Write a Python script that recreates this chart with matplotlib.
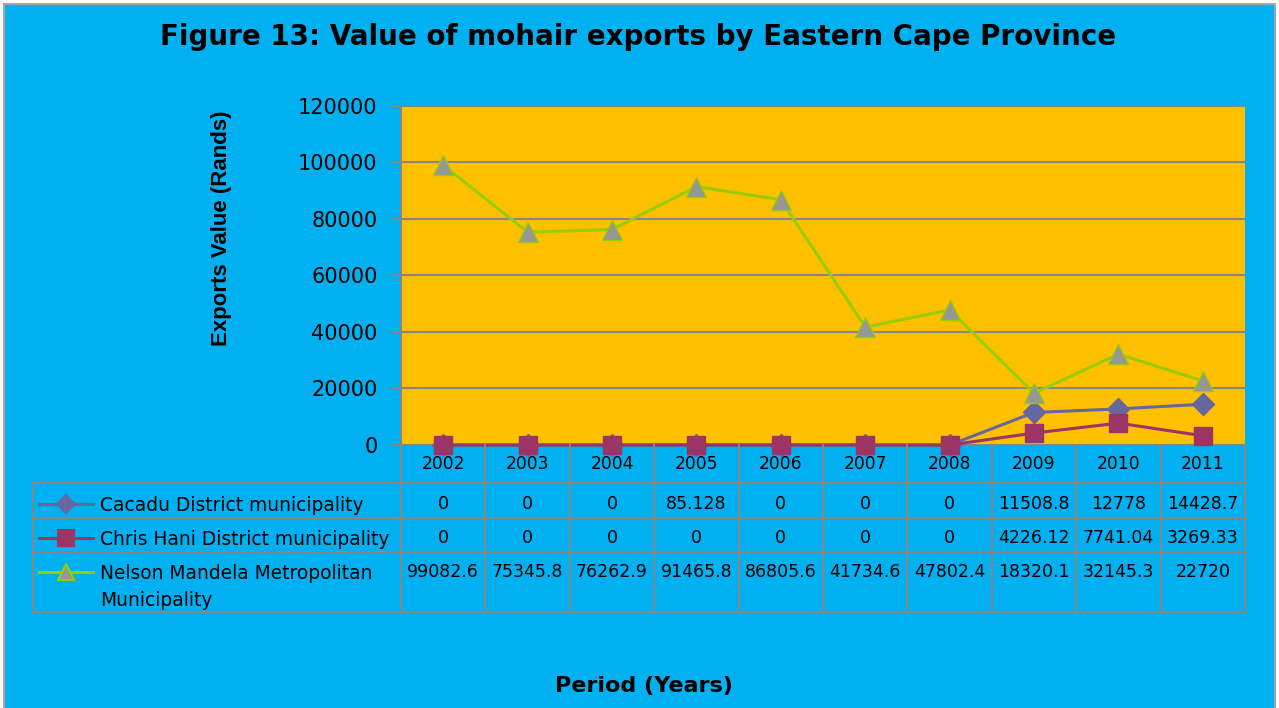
import numpy as np
import matplotlib
matplotlib.use("Agg")
import matplotlib.pyplot as plt
from matplotlib.lines import Line2D
from matplotlib.patches import Rectangle

years = ["2002", "2003", "2004", "2005", "2006", "2007", "2008", "2009", "2010", "2011"]
cacadu = [0, 0, 0, 85.128, 0, 0, 0, 11508.8, 12778, 14428.7]
chris_hani = [0, 0, 0, 0, 0, 0, 0, 4226.12, 7741.04, 3269.33]
nelson = [99082.6, 75345.8, 76262.9, 91465.8, 86805.6, 41734.6, 47802.4, 18320.1, 32145.3, 22720]

cacadu_txt = ["0", "0", "0", "85.128", "0", "0", "0", "11508.8", "12778", "14428.7"]
chris_txt = ["0", "0", "0", "0", "0", "0", "0", "4226.12", "7741.04", "3269.33"]
nelson_txt = ["99082.6", "75345.8", "76262.9", "91465.8", "86805.6", "41734.6",
              "47802.4", "18320.1", "32145.3", "22720"]

BG = "#00B0F0"
PLOT_BG = "#FFC000"
GRID = "#868686"
W, H = 1279, 708

series = [
    (["Cacadu District municipality"], cacadu, cacadu_txt,
     dict(color="#6666A0", marker="D", markersize=11, markerfacecolor="#6666A0", markeredgecolor="#6666A0")),
    (["Chris Hani District municipality"], chris_hani, chris_txt,
     dict(color="#9C3566", marker="s", markersize=13, markerfacecolor="#9C3566", markeredgecolor="#9C3566")),
    (["Nelson Mandela Metropolitan", "Municipality"], nelson, nelson_txt,
     dict(color="#99CC00", marker="^", markersize=14, markerfacecolor="#969696", markeredgecolor="#99CC00")),
]

fig = plt.figure(figsize=(W / 100, H / 100), dpi=100)
fig.patch.set_facecolor("white")

# background frame of the chart area (pixel coordinates)
bgax = fig.add_axes([0, 0, 1, 1], zorder=-10)
bgax.set_xlim(0, W)
bgax.set_ylim(H, 0)
bgax.axis("off")
bgax.add_patch(Rectangle((4, 4), 1271, 720, facecolor=BG, edgecolor="#A6A6A6", lw=1.5))

# plot area in pixel terms
left, right, top, bottom = 401, 1245, 106, 445
ax = fig.add_axes([left / W, 1 - bottom / H, (right - left) / W, (bottom - top) / H])
ax.set_facecolor(PLOT_BG)
x = np.arange(len(years))
for name, vals, _, style in series:
    ax.plot(x, vals, lw=2.2, zorder=3, clip_on=False, **style)
ax.set_xlim(-0.5, len(years) - 0.5)
ax.set_ylim(0, 120000)
ax.set_yticks(np.arange(0, 120001, 20000))
ax.set_yticklabels([str(v) for v in range(0, 120001, 20000)], fontsize=15,
                   family="DejaVu Sans")
ax.set_xticks([])
ax.grid(axis="y", color=GRID, lw=1.5)
ax.set_axisbelow(True)
ax.tick_params(axis="y", length=7, width=1.5, color=GRID, pad=10)
for s in ["top", "right", "bottom"]:
    ax.spines[s].set_visible(False)
ax.spines["left"].set_color(GRID)
ax.spines["left"].set_linewidth(1.5)

fig.text(221 / W, 1 - 228 / H, "Exports Value (Rands)", rotation=90, ha="center", va="center",
         fontsize=16, fontweight="bold", family=["Liberation Sans", "DejaVu Sans"])

# data table drawn in pixel coordinates
tb = fig.add_axes([0, 0, 1, 1])
tb.set_xlim(0, W)
tb.set_ylim(H, 0)
tb.axis("off")
tb.patch.set_alpha(0)

col_w = (right - left) / len(years)
col_edges = [left + i * col_w for i in range(len(years) + 1)]
row_edges = [bottom, 483, 518, 552, 612]
lc = dict(color=GRID, lw=1.5)

for ce in col_edges:
    tb.plot([ce, ce], [bottom, row_edges[-1]], **lc)
tb.plot([33, 33], [row_edges[1], row_edges[-1]], **lc)
for re in row_edges[1:]:
    tb.plot([33, right], [re, re], **lc)

for i, yr in enumerate(years):
    tb.text((col_edges[i] + col_edges[i + 1]) / 2, 464, yr, ha="center", va="center",
            family="DejaVu Sans", fontsize=12.3)

row_text_y = [504, 538, 572]
for r, (name_lines, vals, txt, style) in enumerate(series):
    yy = row_text_y[r]
    tb.add_line(Line2D([39, 93], [yy, yy], lw=2.2, color=style["color"]))
    tb.add_line(Line2D([66], [yy], marker=style["marker"], markersize=style["markersize"] - 2,
                       markerfacecolor=style["markerfacecolor"],
                       markeredgecolor=style["markeredgecolor"], markeredgewidth=1.5, lw=0))
    for k, line in enumerate(name_lines):
        tb.text(100, yy + 7 + 27 * k, line, ha="left", va="baseline",
                family="DejaVu Sans", fontsize=13.4)
    for i, t in enumerate(txt):
        tb.text((col_edges[i] + col_edges[i + 1]) / 2, yy, t, ha="center", va="center",
                family="DejaVu Sans", fontsize=12.5)

fig.text(638 / W, 1 - 45 / H, "Figure 13: Value of mohair exports by Eastern Cape Province",
         ha="center", va="baseline", fontsize=20, fontweight="bold", family="DejaVu Sans")
fig.text(644 / W, 1 - 692 / H, "Period (Years)", ha="center", va="baseline",
         fontsize=16, fontweight="bold", family="DejaVu Sans")

fig.savefig("out.png", dpi=100, facecolor="white")
